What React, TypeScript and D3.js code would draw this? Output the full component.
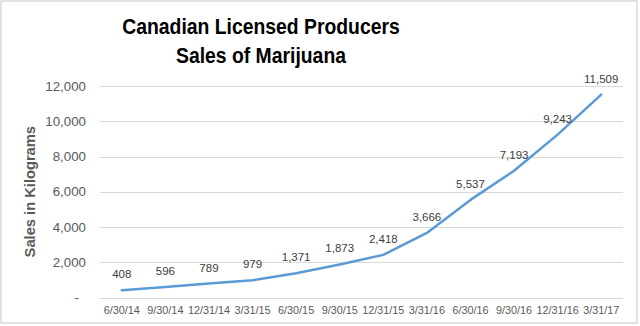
import React from "react";
import * as d3 from "d3";

const categories = ["6/30/14","9/30/14","12/31/14","3/31/15","6/30/15","9/30/15","12/31/15","3/31/16","6/30/16","9/30/16","12/31/16","3/31/17"];
const sales = [408, 596, 789, 979, 1371, 1873, 2418, 3666, 5537, 7193, 9243, 11509];
const yTicks = [0, 2000, 4000, 6000, 8000, 10000, 12000];
const titleLines = ["Canadian Licensed Producers", "Sales of Marijuana"];
const yTitle = "Sales in Kilograms";

const W = 640, H = 326;
const plotL = 100, plotR = 623, plotT = 86, plotB = 297.5;

export default function App() {
  const x = d3.scaleBand<string>().domain(categories).range([plotL, plotR]);
  const y = d3.scaleLinear().domain([0, 12000]).range([plotB, plotT]);
  const fmt = d3.format(",");
  const line = d3.line<number>()
    .x((_, i) => (x(categories[i]) as number) + x.bandwidth() / 2)
    .y((d) => y(d))
    .curve(d3.curveLinear);
  const font = "'Liberation Sans', Arial, sans-serif";
  return (
    <svg width={W} height={H} style={{ position: "absolute", left: 0, top: 0, background: "#fff" }} fontFamily={font}>
      <rect x={0} y={0} width={W} height={H} fill="#fff" />
      <rect x={1} y={1} width={636} height={322} fill="#fff" stroke="#d9d9d9" strokeWidth={1.5} />
      {titleLines.map((t, i) => (
        <text key={t} transform={`translate(261,${34 + i * 29}) scale(0.88,1)`} textAnchor="middle" fontSize={22} fontWeight="bold" fill="#000">{t}</text>
      ))}
      <text transform={`translate(34.5,${191.7}) rotate(-90)`} textAnchor="middle" fontSize={14.7} fontWeight="bold" fill="#595959">{yTitle}</text>
      {yTicks.map((t) => (
        <g key={t}>
          <line x1={plotL} x2={plotR} y1={Math.round(y(t)) + 0.5} y2={Math.round(y(t)) + 0.5} stroke="#d9d9d9" strokeWidth={1} />
          <text x={t === 0 ? 79 : 86} y={y(t) + 4.6} textAnchor="end" fontSize={13.3} fill="#595959">{t === 0 ? "-" : fmt(t)}</text>
        </g>
      ))}
      {categories.map((c) => (
        <text key={c} x={(x(c) as number) + x.bandwidth() / 2} y={314} textAnchor="middle" fontSize={10.8} fill="#595959">{c}</text>
      ))}
      <path d={line(sales) || ""} fill="none" stroke="#5b9bd5" strokeWidth={2.5} strokeLinejoin="round" strokeLinecap="round" />
      {sales.map((v, i) => (
        <text key={i} x={(x(categories[i]) as number) + x.bandwidth() / 2} y={y(v) - 12} textAnchor="middle" fontSize={11.5} fill="#404040">{fmt(v)}</text>
      ))}
    </svg>
  );
}
